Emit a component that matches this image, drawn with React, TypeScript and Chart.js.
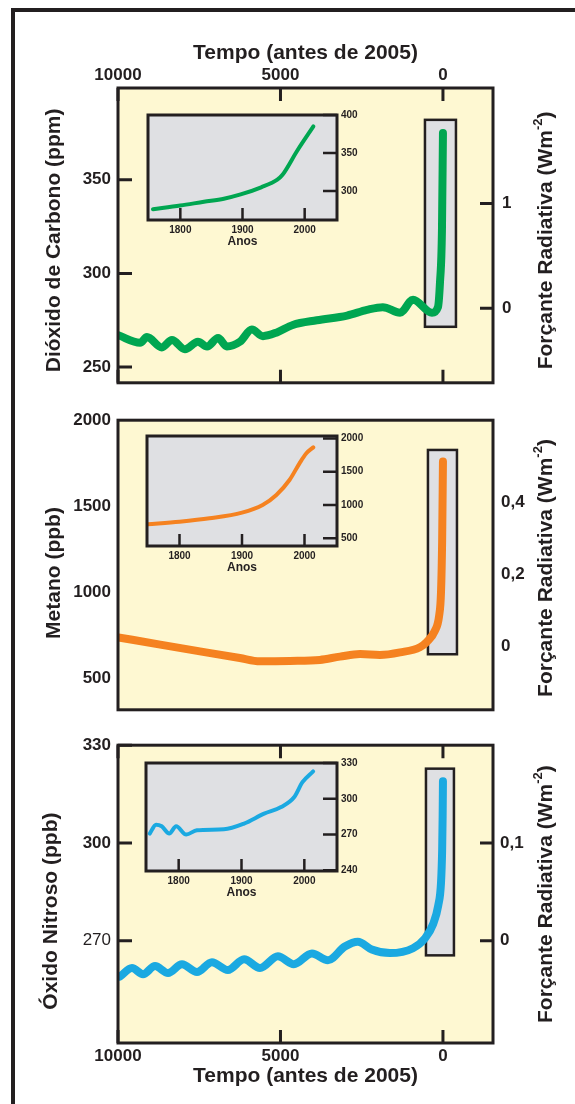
import React, { useEffect, useRef } from "react";
import { Chart, registerables } from "chart.js";

Chart.register(...registerables);

const FONT = '"Liberation Sans", Arial, Helvetica, sans-serif';
const INK = "#231f20";
const PANEL_BG = "#fef8d2";
const BOX_BG = "#dfe0e3";
const GREEN = "#00a651";
const ORANGE = "#f58220";
const BLUE = "#1ba9e1";

Chart.defaults.font.family = FONT;

// ---------------- data ----------------
const mainXTicks = [10000, 5000, 0];
const insetXTicks = [1800, 1900, 2000];

// CO2 (ppm), years before 2005
const co2Years = [9990, 9320, 9110, 8650, 8340, 7940, 7540, 7260, 6920, 6650, 6250, 5880, 5540, 5110, 4620, 3880, 2950, 2340, 1850, 1320, 920, 338, 154, 92, 31, 0];
const co2Values = [267, 263, 266, 260.5, 264.5, 259.5, 263.5, 261, 265.5, 261, 263.5, 270, 266.5, 268.5, 272.5, 275, 277.5, 280.5, 282, 279, 286, 279, 282, 295, 323, 375];
const co2Ticks = [250, 300, 350];
const co2ForcingTicks = [0, 1];
const co2Box = { x: [554, -400], y: [271.5, 382] };

// CH4 (ppb)
const ch4Years = [9990, 8700, 7480, 6250, 5630, 4710, 3790, 3170, 2550, 1940, 1320, 710, 490, 250, 120, 60, 25, 0];
const ch4Values = [737, 695, 656, 617, 598, 600, 606, 625, 640, 635, 650, 680, 712, 775, 860, 1000, 1300, 1760];
const ch4Ticks = [500, 1000, 1500, 2000];
const ch4ForcingTicks = [0, 0.2, 0.4];
const ch4Box = { x: [462, -431], y: [639, 1827] };

// N2O (ppb)
const n2oYears = [9940, 9570, 9230, 8860, 8460, 8030, 7570, 7110, 6620, 6120, 5630, 5080, 4590, 4030, 3540, 3020, 2620, 2190, 1630, 923, 554, 298, 145, 60, 25, 10, 0];
const n2oValues = [259, 261.6, 259.7, 262.2, 260.1, 262.8, 260.4, 263.4, 261, 264.3, 261.6, 265.2, 262.8, 266.1, 264, 268.2, 269.7, 267.3, 266.2, 267.7, 270.7, 275.2, 280.8, 287.8, 297.8, 308, 318.9];
const n2oTicks = [270, 300, 330];
const n2oForcingTicks = [0, 0.1];
const n2oBox = { x: [523, -338], y: [265.5, 322.8] };

// insets (year AD)
const co2InsetYears = [1756, 1800, 1838, 1870, 1897, 1930, 1956, 1964, 1988, 2014];
const co2InsetValues = [276, 281, 286, 290, 295.6, 305, 315, 321, 353, 385];
const co2InsetTicks = [300, 350, 400];

const ch4InsetYears = [1749, 1800, 1848, 1900, 1933, 1955, 1976, 1992, 2003, 2014];
const ch4InsetValues = [710, 749, 800, 885, 1000, 1150, 1375, 1626, 1776, 1865];
const ch4InsetTicks = [500, 1000, 1500, 2000];

const n2oInsetYears = [1754, 1764, 1773, 1785, 1796, 1812, 1829, 1872, 1904, 1936, 1963, 1984, 1997, 2014];
const n2oInsetValues = [270.8, 278.3, 276.9, 270.8, 276.9, 270, 273.6, 274.4, 279.2, 287.5, 293, 301.4, 313.9, 323];
const n2oInsetTicks = [240, 270, 300, 330];

// ---------------- helpers ----------------
const X_RANGE = { min: -1540, max: 10000 };
const INSET_X = { min: 1748, max: 2052 };
const TICK_FONT = { family: FONT, size: 17, weight: "bold" };
const TITLE_SIZE = 21;
const TITLE_FONT = { family: FONT, size: TITLE_SIZE, weight: "bold" };
const INSET_TICK_FONT = { family: FONT, size: 10, weight: "bold" };
const NO_GRID = { display: false, drawTicks: false };

const setTicks = (vals: number[]) => (s: any) => {
  s.ticks = vals.map((v) => ({ value: v }));
};
const fixH = (h: number) => (s: any) => {
  s.height = h;
};
const fixW = (w: number) => (s: any) => {
  s.width = w;
};
const fmt = (v: number) => String(v).replace(".", ",");
const pts = (xs: number[], ys: number[]) => xs.map((x, i) => ({ x, y: ys[i] }));

type TitleSpec = { text: string; sup?: string; tail?: string; x: number; dy: number; size: number };
type Deco = {
  bg: string;
  box?: { x: number[]; y: number[] };
  marks: { id: string; len: number }[];
  markWidth: number;
  frameWidth: number;
  titles: TitleSpec[];
};

function drawVTitle(ctx: CanvasRenderingContext2D, cx: number, cy: number, t: TitleSpec) {
  const main = `bold ${t.size}px ${FONT}`;
  const small = `bold ${Math.round(t.size * 0.6)}px ${FONT}`;
  ctx.save();
  ctx.translate(cx, cy);
  ctx.rotate(-Math.PI / 2);
  ctx.fillStyle = INK;
  ctx.textBaseline = "middle";
  ctx.textAlign = "left";
  ctx.font = main;
  const w1 = ctx.measureText(t.text).width;
  const w3 = t.tail ? ctx.measureText(t.tail).width : 0;
  ctx.font = small;
  const w2 = t.sup ? ctx.measureText(t.sup).width : 0;
  let px = -(w1 + w2 + w3) / 2;
  ctx.font = main;
  ctx.fillText(t.text, px, 0);
  px += w1;
  if (t.sup) {
    ctx.font = small;
    ctx.fillText(t.sup, px, -t.size * 0.38);
    px += w2;
    ctx.font = main;
    ctx.fillText(t.tail || "", px, 0);
  }
  ctx.restore();
}

function decoPlugin(o: Deco) {
  return {
    id: "deco",
    beforeDraw(chart: any) {
      const { ctx, chartArea: a } = chart;
      ctx.save();
      ctx.fillStyle = o.bg;
      ctx.fillRect(a.left, a.top, a.right - a.left, a.bottom - a.top);
      ctx.restore();
    },
    beforeDatasetsDraw(chart: any) {
      if (!o.box) return;
      const { ctx } = chart;
      const xs = chart.scales.x;
      const ys = chart.scales.y;
      const x0 = xs.getPixelForValue(o.box.x[0]);
      const x1 = xs.getPixelForValue(o.box.x[1]);
      const y0 = ys.getPixelForValue(o.box.y[0]);
      const y1 = ys.getPixelForValue(o.box.y[1]);
      const l = Math.min(x0, x1), t = Math.min(y0, y1);
      const w = Math.abs(x1 - x0), h = Math.abs(y1 - y0);
      ctx.save();
      ctx.fillStyle = BOX_BG;
      ctx.fillRect(l, t, w, h);
      ctx.lineWidth = 2.5;
      ctx.strokeStyle = INK;
      ctx.strokeRect(l, t, w, h);
      ctx.restore();
    },
    afterDraw(chart: any) {
      const { ctx, chartArea: a } = chart;
      ctx.save();
      ctx.strokeStyle = INK;
      ctx.lineWidth = o.markWidth;
      ctx.lineCap = "butt";
      ctx.beginPath();
      o.marks.forEach(({ id, len }) => {
        const s = chart.scales[id];
        s.ticks.forEach((tk: any) => {
          const p = s.getPixelForValue(tk.value);
          if (s.position === "top") {
            ctx.moveTo(p, a.top);
            ctx.lineTo(p, a.top + len);
          } else if (s.position === "bottom") {
            ctx.moveTo(p, a.bottom);
            ctx.lineTo(p, a.bottom - len);
          } else if (s.position === "left") {
            ctx.moveTo(a.left, p);
            ctx.lineTo(a.left + len, p);
          } else {
            ctx.moveTo(a.right, p);
            ctx.lineTo(a.right - len, p);
          }
        });
      });
      ctx.stroke();
      ctx.lineWidth = o.frameWidth;
      ctx.strokeRect(a.left, a.top, a.right - a.left, a.bottom - a.top);
      ctx.restore();
      const cy = (a.top + a.bottom) / 2;
      o.titles.forEach((t) => drawVTitle(ctx, t.x, cy + t.dy, t));
    },
  };
}

function timeAxis(position: "top" | "bottom", size: number, labels: boolean, labelPad: number, titlePad?: number) {
  return {
    type: "linear",
    position,
    reverse: true,
    min: X_RANGE.min,
    max: X_RANGE.max,
    afterBuildTicks: setTicks(mainXTicks),
    afterFit: fixH(size),
    grid: NO_GRID,
    border: { display: false },
    ticks: {
      display: labels,
      font: TICK_FONT,
      color: INK,
      padding: labelPad,
      maxRotation: 0,
      minRotation: 0,
      autoSkip: false,
      callback: (v: number) => String(v),
    },
    title:
      titlePad !== undefined
        ? {
            display: true,
            text: "Tempo (antes de 2005)",
            color: INK,
            font: TITLE_FONT,
            padding: position === "top" ? { top: titlePad, bottom: 0 } : { top: 0, bottom: titlePad },
          }
        : { display: false },
  };
}

function valueAxis(position: "left" | "right", size: number, min: number, max: number, ticks: number[], pad: number, font: any = TICK_FONT) {
  return {
    type: "linear",
    position,
    min,
    max,
    afterBuildTicks: setTicks(ticks),
    afterFit: fixW(size),
    grid: NO_GRID,
    border: { display: false },
    ticks: { font, color: INK, padding: pad, autoSkip: false, callback: (v: number) => fmt(v) },
  };
}

const baseOptions = {
  responsive: false,
  animation: false,
  devicePixelRatio: 1,
  events: [],
  plugins: { legend: { display: false }, tooltip: { enabled: false } },
};

function lineDataset(data: any[], color: string, width: number) {
  return {
    data,
    borderColor: color,
    borderWidth: width,
    pointRadius: 0,
    pointHoverRadius: 0,
    cubicInterpolationMode: "monotone",
    borderCapStyle: "round",
    borderJoinStyle: "round",
    fill: false,
    xAxisID: "x",
    yAxisID: "y",
  };
}

const rightTitle = (dy: number): TitleSpec => ({ text: "Forçante Radiativa (Wm", sup: "-2", tail: ")", x: 546, dy, size: TITLE_SIZE });

// ---------------- chart configs ----------------
const co2Config = () => ({
  type: "line",
  data: { datasets: [lineDataset(pts(co2Years, co2Values), GREEN, 8)] },
  options: {
    ...baseOptions,
    layout: { padding: 0 },
    scales: {
      x: timeAxis("top", 88, true, 2, 41),
      x2: timeAxis("bottom", 13, false, 0),
      y: valueAxis("left", 118, 241.6, 399, co2Ticks, 7),
      y2: valueAxis("right", 82, -0.71, 2.1, co2ForcingTicks, 9),
    },
  },
  plugins: [
    decoPlugin({
      bg: PANEL_BG,
      box: co2Box,
      marks: [
        { id: "x", len: 13 },
        { id: "x2", len: 13 },
        { id: "y", len: 14 },
        { id: "y2", len: 13 },
      ],
      markWidth: 3,
      frameWidth: 3,
      titles: [{ text: "Dióxido de Carbono (ppm)", x: 54, dy: 5, size: TITLE_SIZE }, rightTitle(5)],
    }),
  ],
});

const ch4Config = () => ({
  type: "line",
  data: { datasets: [lineDataset(pts(ch4Years, ch4Values), ORANGE, 8)] },
  options: {
    ...baseOptions,
    layout: { padding: 0 },
    scales: {
      x: timeAxis("top", 12, false, 0),
      x2: timeAxis("bottom", 12, false, 0),
      y: valueAxis("left", 118, 316, 2000, ch4Ticks, 7),
      y2: valueAxis("right", 82, -0.176, 0.629, ch4ForcingTicks, 8),
    },
  },
  plugins: [
    decoPlugin({
      bg: PANEL_BG,
      box: ch4Box,
      marks: [],
      markWidth: 3,
      frameWidth: 3,
      titles: [{ text: "Metano (ppb)", x: 54, dy: 8, size: TITLE_SIZE }, rightTitle(3)],
    }),
  ],
});

const n2oConfig = () => ({
  type: "line",
  data: { datasets: [lineDataset(pts(n2oYears, n2oValues), BLUE, 8)] },
  options: {
    ...baseOptions,
    layout: { padding: 0 },
    scales: {
      x: timeAxis("top", 12, false, 0),
      x2: timeAxis("bottom", 61, true, 3, 15),
      y: valueAxis("left", 118, 238.6, 330, n2oTicks, 7, (c: any) => ({
        family: FONT,
        size: 17,
        weight: c.tick && c.tick.value === 270 ? "normal" : "bold",
      })),
      y2: valueAxis("right", 82, -0.1045, 0.2, n2oForcingTicks, 7),
    },
  },
  plugins: [
    decoPlugin({
      bg: PANEL_BG,
      box: n2oBox,
      marks: [
        { id: "x", len: 13 },
        { id: "x2", len: 13 },
        { id: "y", len: 14 },
        { id: "y2", len: 13 },
      ],
      markWidth: 3,
      frameWidth: 3,
      titles: [{ text: "Óxido Nitroso (ppb)", x: 51, dy: 17, size: TITLE_SIZE }, rightTitle(0)],
    }),
  ],
});

function insetConfig(xs: number[], ys: number[], color: string, yMin: number, yMax: number, yTicks: number[]) {
  return () => ({
    type: "line",
    data: { datasets: [lineDataset(pts(xs, ys), color, 4)] },
    options: {
      ...baseOptions,
      layout: { padding: { left: 10, top: 10, right: 0, bottom: 0 } },
      scales: {
        x: {
          type: "linear",
          position: "bottom",
          min: INSET_X.min,
          max: INSET_X.max,
          afterBuildTicks: setTicks(insetXTicks),
          afterFit: fixH(33),
          grid: NO_GRID,
          border: { display: false },
          ticks: { font: INSET_TICK_FONT, color: INK, padding: 4, maxRotation: 0, autoSkip: false, callback: (v: number) => String(v) },
          title: { display: true, text: "Anos", color: INK, font: { family: FONT, size: 12, weight: "bold" }, padding: { top: 0, bottom: 3.8 } },
        },
        y: {
          type: "linear",
          position: "right",
          min: yMin,
          max: yMax,
          afterBuildTicks: setTicks(yTicks),
          afterFit: fixW(33),
          grid: NO_GRID,
          border: { display: false },
          ticks: { font: INSET_TICK_FONT, color: INK, padding: 4, autoSkip: false, callback: (v: number) => String(v) },
        },
      },
    },
    plugins: [
      decoPlugin({
        bg: BOX_BG,
        marks: [
          { id: "x", len: 12 },
          { id: "y", len: 14 },
        ],
        markWidth: 2.5,
        frameWidth: 3,
        titles: [],
      }),
    ],
  });
}

// ---------------- components ----------------
function ChartBox({ x, y, w, h, make }: { x: number; y: number; w: number; h: number; make: () => any }) {
  const ref = useRef<HTMLCanvasElement>(null);
  useEffect(() => {
    const chart = new Chart(ref.current as HTMLCanvasElement, make());
    return () => chart.destroy();
  }, []);
  return <canvas ref={ref} width={w} height={h} style={{ position: "absolute", left: x, top: y, width: w, height: h }} />;
}

export default function App() {
  return (
    <div style={{ position: "absolute", left: 0, top: 0, width: 575, height: 1104, overflow: "hidden", background: "#ffffff" }}>
      <div style={{ position: "absolute", left: 11, top: 8, width: 700, height: 1300, border: `4px solid ${INK}` }} />
      <ChartBox x={0} y={0} w={575} h={402} make={co2Config} />
      <ChartBox x={0} y={402} w={575} h={326} make={ch4Config} />
      <ChartBox x={0} y={728} w={575} h={376} make={n2oConfig} />
      <ChartBox x={138} y={105} w={232} h={148} make={insetConfig(co2InsetYears, co2InsetValues, GREEN, 262, 400, co2InsetTicks)} />
      <ChartBox x={137} y={426} w={233} h={153} make={insetConfig(ch4InsetYears, ch4InsetValues, ORANGE, 384, 2036, ch4InsetTicks)} />
      <ChartBox x={136} y={753} w={234} h={151} make={insetConfig(n2oInsetYears, n2oInsetValues, BLUE, 239.4, 330, n2oInsetTicks)} />
    </div>
  );
}
